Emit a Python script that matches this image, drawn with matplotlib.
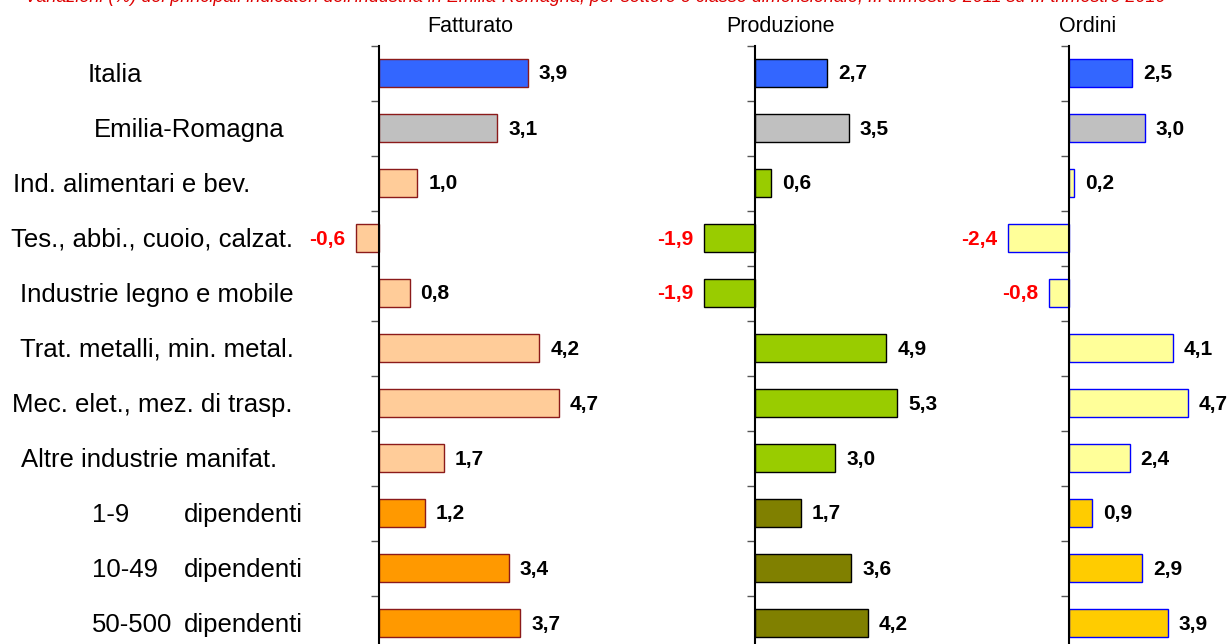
import numpy as np
import matplotlib.pyplot as plt
from matplotlib import transforms

plt.rcParams['font.family'] = ['Liberation Sans', 'DejaVu Sans']

# Dati
categorie = ["Italia", "Emilia-Romagna", "Ind. alimentari e bev.",
             "Tes., abbi., cuoio, calzat.", "Industrie legno e mobile",
             "Trat. metalli, min. metal.", "Mec. elet., mez. di trasp.",
             "Altre industrie manifat.", "1-9 dipendenti",
             "10-49 dipendenti", "50-500 dipendenti"]
fatturato = [3.9, 3.1, 1.0, -0.6, 0.8, 4.2, 4.7, 1.7, 1.2, 3.4, 3.7]
produzione = [2.7, 3.5, 0.6, -1.9, -1.9, 4.9, 5.3, 3.0, 1.7, 3.6, 4.2]
ordini = [2.5, 3.0, 0.2, -2.4, -0.8, 4.1, 4.7, 2.4, 0.9, 2.9, 3.9]
titoli = ["Fatturato", "Produzione", "Ordini"]
titolo = ("Variazioni (%) dei principali indicatori dell'industria in Emilia-Romagna, "
          "per settore e classe dimensionale, III trimestre 2011 su III trimestre 2010")

# stile: colori (Italia, Emilia-Romagna, settori, classi) e bordi
colori = [
    ("#3366FF", "#C0C0C0", "#FFCC99", "#FF9900", "#8B1A1A"),
    ("#3366FF", "#C0C0C0", "#99CC00", "#808000", "#000000"),
    ("#3366FF", "#C0C0C0", "#FFFF99", "#FFCC00", "#0000FF"),
]

W, H = 1232, 644
fig = plt.figure(figsize=(W / 100, H / 100), dpi=100)

# layout in pixel: (sinistra, destra, zero, px per unita')
pannelli = [(300, 700, 379, 38.2), (620, 1010, 755, 26.8), (1000, 1232, 1069, 25.3)]
top_px, passo = 45.5, 55.0
n = len(categorie)

serie = [fatturato, produzione, ordini]
for k, (left, right, zero, scala) in enumerate(pannelli):
    ax = fig.add_axes([left / W, 0, (right - left) / W, 1 - top_px / H])
    ax.patch.set_alpha(0)
    ax.set_xlim((left - zero) / scala, (right - zero) / scala)
    ax.set_ylim(-0.5 + (H - top_px) / passo, -0.5)
    c_it, c_er, c_set, c_cl, bordo = colori[k]
    col = [c_it, c_er] + [c_set] * 6 + [c_cl] * 3
    y = np.arange(n)
    ax.barh(y, serie[k], height=0.5, color=col, edgecolor=bordo, linewidth=1)
    for yi, v in zip(y, serie[k]):
        s = f"{v:.1f}".replace(".", ",")
        if v >= 0:
            ax.annotate(s, (v, yi), xytext=(11, -1), textcoords='offset pixels',
                        ha='left', va='center', fontsize=15, fontweight='bold',
                        color='black', annotation_clip=False)
        else:
            ax.annotate(s, (v, yi), xytext=(-11, -1), textcoords='offset pixels',
                        ha='right', va='center', fontsize=15, fontweight='bold',
                        color='#FF0000', annotation_clip=False)
    for sp in ['top', 'right', 'bottom']:
        ax.spines[sp].set_visible(False)
    ax.spines['left'].set_position(('data', 0))
    ax.spines['left'].set_linewidth(1.5)
    ax.set_yticks(np.arange(-0.5, n - 0.5, 1))
    ax.set_yticklabels([])
    ax.tick_params(axis='y', direction='out', length=6, width=1, color='#555555')
    ax.set_xticks([])

    if k == 0:
        tr = transforms.blended_transform_factory(fig.transFigure, ax.transData)
        xlab = [88, 94, 13, 11, 20, 20, 12, 21, 92, 92, 92]
        for i, lab in enumerate(categorie):
            if "dipendenti" in lab:
                num, dip = lab.split(" ")
                ax.text(xlab[i] / W, i + 0.03, num, transform=tr, ha='left',
                        va='center', fontsize=18.5)
                ax.text(184 / W, i + 0.03, dip, transform=tr, ha='left',
                        va='center', fontsize=18.5)
            else:
                ax.text(xlab[i] / W, i + 0.03, lab, transform=tr, ha='left',
                        va='center', fontsize=18.5)

# titoli dei pannelli
for t, xc in zip(titoli, [470, 780, 1088]):
    fig.text(xc / W, 1 - 27 / H, t, ha='center', va='center', fontsize=15.5)

# titolo generale, tagliato in alto come nell'originale
fig.text(25 / W, 1 - 1.5 / H, titolo, ha='left', va='baseline', fontsize=13,
         style='italic', color='#DD0000')

fig.savefig("out.png", dpi=100)
